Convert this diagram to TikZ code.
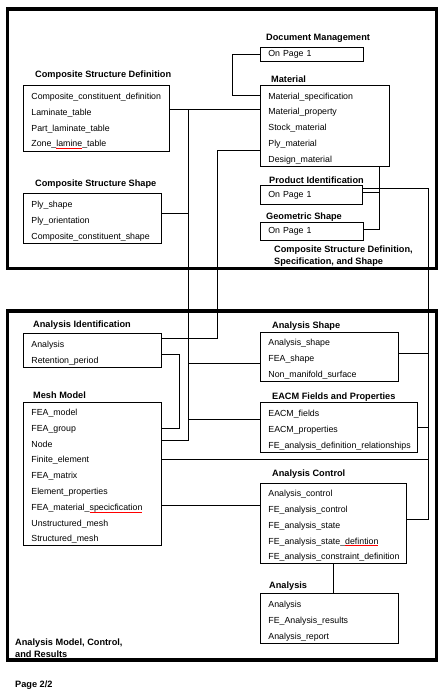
\documentclass[tikz,border=0pt]{standalone}
\usepackage{fontspec}
\setmainfont{Liberation Sans}
\usetikzlibrary{positioning}
\newsavebox\typobox
\newcommand{\typo}[1]{\sbox\typobox{#1}\rlap{\color{red}\rule[-1.8pt]{\wd\typobox}{0.6pt}}\usebox\typobox}

\tikzset{
  grp/.style={draw, line width=0.8pt, anchor=north west, align=left, inner xsep=8pt, inner ysep=0pt, font=\fontsize{8.8}{15.8}\selectfont},
  rows/.style={grp, execute at begin node={\rule{0pt}{11.5pt}}},
  ttl/.style={anchor=west, inner sep=0pt, align=left, font=\fontsize{9.2}{11.5}\selectfont\bfseries},
  frame/.style={line width=3.2pt},
  link/.style={line width=0.8pt},
}

\begin{document}
\begin{tikzpicture}[x=1pt, y=-1pt]
\useasboundingbox (0,0) rectangle (446,694);
% Riquadri
\draw[frame] (7.7,9) rectangle (436.7,268.7);
\draw[frame] (7.7,311) rectangle (436.7,660);

% Sopra
\node[grp, text width=87pt, minimum height=14pt] (doc) at (260,47) {On Page 1};
\node[ttl] (tdoc) at (266,38) {Document Management};
\node[rows, text width=113pt, minimum height=81pt] (mat) at (260,85) {Material\_specification\\Material\_property\\Stock\_material\\Ply\_material\\Design\_material};
\node[ttl] (tmat) at (271,79) {Material};
\node[grp, text width=86pt, minimum height=19pt] (pid) at (260,185) {On Page 1};
\node[ttl] (tpid) at (269,180) {Product Identification};
\node[grp, text width=87pt, minimum height=18pt] (geo) at (260,222) {On Page 1};
\node[ttl] (tgeo) at (266,217) {Geometric Shape};
\node[rows, text width=130pt, minimum height=66pt] (csd) at (23,85) {Composite\_constituent\_definition\\Laminate\_table\\Part\_laminate\_table\\Zone\_\typo{lamine}\_table};
\node[ttl] (tcsd) at (35,75) {Composite Structure Definition};
\node[rows, text width=122pt, minimum height=50pt] (css) at (23,193) {Ply\_shape\\Ply\_orientation\\Composite\_constituent\_shape};
\node[ttl] (tcss) at (35,184) {Composite Structure Shape};
\node[ttl] (tupper) at (274,256) {Composite Structure Definition,\\Specification, and Shape};

% Sotto
\node[rows, text width=122pt, minimum height=34pt] (aid) at (23,333) {Analysis\\Retention\_period};
\node[ttl] (taid) at (33,325) {Analysis Identification};
\node[rows, text width=122pt, minimum height=143pt] (mesh) at (23,402) {FEA\_model\\FEA\_group\\Node\\Finite\_element\\FEA\_matrix\\Element\_properties\\FEA\_material\_\typo{specicfication}\\Unstructured\_mesh\\Structured\_mesh};
\node[ttl] (tmesh) at (33,395) {Mesh Model};
\node[rows, text width=122pt, minimum height=49pt] (ashp) at (260,332) {Analysis\_shape\\FEA\_shape\\Non\_manifold\_surface};
\node[ttl] (tash) at (272,326) {Analysis Shape};
\node[rows, text width=141pt, minimum height=50pt] (eacm) at (260,402) {EACM\_fields\\EACM\_properties\\FE\_analysis\_definition\_relationships};
\node[ttl] (teacm) at (272,397) {EACM Fields and Properties};
\node[rows, text width=130pt, minimum height=80pt] (actl) at (260,483) {Analysis\_control\\FE\_analysis\_control\\FE\_analysis\_state\\FE\_analysis\_state\_\typo{defintion}\\FE\_analysis\_constraint\_definition};
\node[ttl] (tctl) at (272,474) {Analysis Control};
\node[rows, text width=122pt, minimum height=50pt] (anal) at (260,593) {Analysis\\FE\_Analysis\_results\\Analysis\_report};
\node[ttl] (tanal) at (269,586) {Analysis};
\node[ttl] (tlower) at (15,648) {Analysis Model, Control,\\and Results};
\node[ttl] (page) at (15,685) {Page 2/2};

% Collegamenti
\coordinate (jdoc) at (232,95);
\coordinate (jcsd) at (188,109);
\coordinate (jcss) at (188,213);
\coordinate (jash) at (188,363);
\coordinate (jeac) at (188,419);
\coordinate (jnode) at (188,440);
\coordinate (jply) at (217,150);
\coordinate (jana) at (217,338);
\coordinate (jret) at (179,354);
\coordinate (jgrp) at (179,428);
\coordinate (jgeo) at (379,229);
\coordinate (jpid) at (379,192);
\coordinate (rpid) at (428,188);
\coordinate (rash) at (428,353);
\coordinate (reac) at (428,427);
\coordinate (rfin) at (428,459);
\coordinate (rctl) at (428,519);
\coordinate (jfea) at (200,505);

\draw[link] (doc.west) -| (jdoc) -- (jdoc -| mat.west);
\draw[link] (jcsd -| csd.east) -- (jcsd -| mat.west);
\draw[link] (jcsd) -- (jnode) -- (jnode -| mesh.east);
\draw[link] (jcss -| css.east) -- (jcss);
\draw[link] (jash) -- (jash -| ashp.west);
\draw[link] (jeac) -- (jeac -| eacm.west);
\draw[link] (jply -| mat.west) -- (jply) -- (jana) -- (jana -| aid.east);
\draw[link] (jret -| aid.east) -- (jret) -- (jgrp) -- (jgrp -| mesh.east);
\draw[link] (mat.south -| jgeo) -- (jgeo) -- (jgeo -| geo.east);
\draw[link] (jpid -| pid.east) -- (jpid);
\draw[link] (rpid -| pid.east) -- (rpid) -- (rctl) -- (rctl -| actl.east);
\draw[link] (rash -| ashp.east) -- (rash);
\draw[link] (reac -| eacm.east) -- (reac);
\draw[link] (rfin -| mesh.east) -- (rfin);
\draw[link] (jfea -| mesh.east) -- (jfea -| actl.west);
\draw[link] (actl.south) -- (actl.south |- anal.north);
\end{tikzpicture}
\end{document}
